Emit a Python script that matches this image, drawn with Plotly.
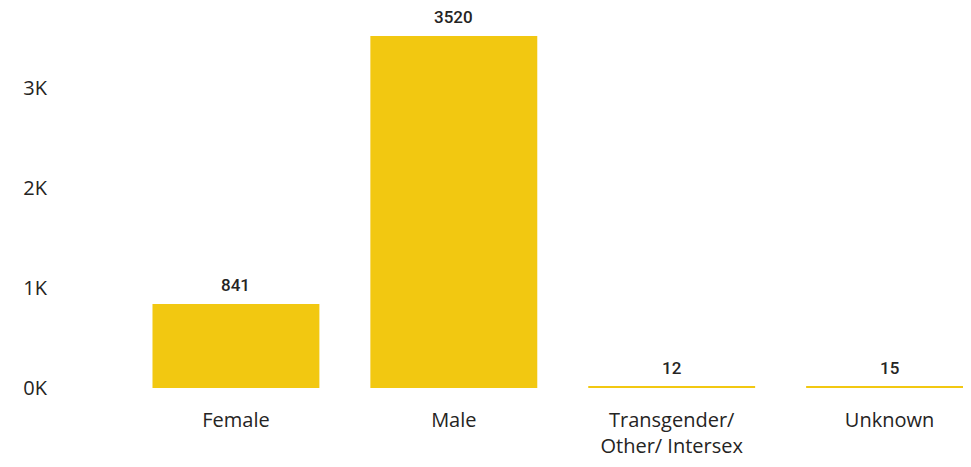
import plotly.graph_objects as go

categories = ["Female", "Male", "Transgender/<br>Other/ Intersex", "Unknown"]
values = [841, 3520, 12, 15]
tick_vals = [0, 1000, 2000, 3000]
tick_text = ["0K", "1K", "2K", "3K"]

BAR = "#F2C811"
TXT = "#252423"

fig = go.Figure()
fig.add_trace(go.Bar(x=categories, y=values, marker=dict(color=BAR, line=dict(width=0)),
                     hoverinfo="x+y"))

for c, v in zip(categories, values):
    fig.add_annotation(x=c, y=v, text=str(v), showarrow=False, yanchor="bottom", yshift=7,
                       font=dict(family="Roboto", size=17, color=TXT, weight=500))

fig.update_layout(
    width=955, height=451,
    margin=dict(l=118.5, r=0, t=0, b=71),
    paper_bgcolor="white", plot_bgcolor="white",
    bargap=0.234,
    showlegend=False,
    font=dict(family="Open Sans", color=TXT),
    xaxis=dict(type="category", range=[-0.5, 3.337], showgrid=False, zeroline=False,
               showline=False, ticks="", tickfont=dict(size=20, color=TXT),
               ticklabelstandoff=18, automargin=False),
    yaxis=dict(range=[0, 3800], tickvals=tick_vals, ticktext=tick_text, showgrid=False,
               zeroline=False, showline=False, ticks="", tickfont=dict(size=20, color=TXT),
               ticklabelstandoff=79, automargin=False),
)
fig.write_html("out.html")
